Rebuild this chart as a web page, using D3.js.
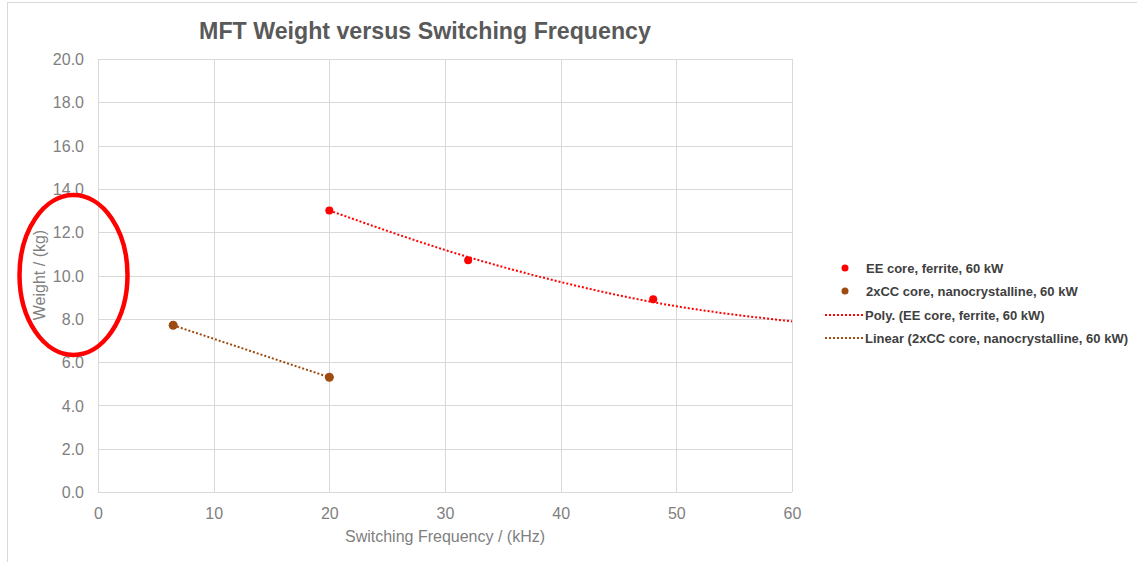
<!DOCTYPE html>
<html><head><meta charset="utf-8">
<script src="https://cdn.jsdelivr.net/npm/d3@7"></script>
<style>body{margin:0;background:#fff;}svg{display:block;font-family:"Liberation Sans",Arial,sans-serif;}</style>
</head><body><svg id="c" width="1137" height="562"></svg>
<script>
const title = "MFT Weight versus Switching Frequency";
const xTitle = "Switching Frequency / (kHz)";
const yTitle = "Weight / (kg)";
const xTicks = [0,10,20,30,40,50,60];
const yTicks = [0,2,4,6,8,10,12,14,16,18,20];
const seriesNames = ["EE core, ferrite, 60 kW","2xCC core, nanocrystalline, 60 kW","Poly. (EE core, ferrite, 60 kW)","Linear (2xCC core, nanocrystalline, 60 kW)"];
const eeFreq = [20,32,48];
const eeWeight = [13.0,10.7,8.9];
const ccFreq = [6.5,20];
const ccWeight = [7.7,5.3];
// trendline readings
const polyFreq = [20,30,40,50,60];
const polyWeight = [13.0,11.18,9.70,8.58,7.88];

const red = "#ff0000", brown = "#9e4b12", grid = "#d9d9d9", txt = "#7f7f7f";
const svg = d3.select("#c");
svg.append("rect").attr("x",7.5).attr("y",2.5).attr("width",1200).attr("height",600)
  .attr("fill","#fff").attr("stroke","#d9d9d9");

const x = d3.scaleLinear().domain([0,60]).range([98,792]);
const y = d3.scaleLinear().domain([0,20]).range([492,59]);

const gx = svg.append("g");
gx.selectAll("line").data(xTicks).join("line")
  .attr("x1",d=>Math.round(x(d))+0.5).attr("x2",d=>Math.round(x(d))+0.5)
  .attr("y1",y(20)).attr("y2",y(0)).attr("stroke",grid);
const gy = svg.append("g");
gy.selectAll("line").data(yTicks).join("line")
  .attr("y1",d=>Math.round(y(d))+0.5).attr("y2",d=>Math.round(y(d))+0.5)
  .attr("x1",x(0)).attr("x2",x(60)).attr("stroke",grid);

const yAxis = svg.append("g").attr("transform",`translate(${x(0)},0)`)
  .call(d3.axisLeft(y).tickValues(yTicks).tickFormat(d3.format(".1f")).tickSize(0).tickPadding(14));
yAxis.select(".domain").remove();
yAxis.selectAll("text").attr("fill",txt).style("font-size","16px").attr("dy","0.35em");

const xAxis = svg.append("g").attr("transform",`translate(0,${y(0)})`)
  .call(d3.axisBottom(x).tickValues(xTicks).tickFormat(d3.format("d")).tickSize(0).tickPadding(16));
xAxis.select(".domain").remove();
xAxis.selectAll("text").attr("fill",txt).style("font-size","16px");

svg.append("text").attr("x",425).attr("y",39).attr("text-anchor","middle")
  .attr("fill","#595959").style("font-size","23.2px").style("font-weight","bold").text(title);
svg.append("text").attr("x",445).attr("y",542).attr("text-anchor","middle")
  .attr("fill",txt).style("font-size","16px").text(xTitle);
svg.append("text").attr("transform","translate(45,275) rotate(-90)").attr("text-anchor","middle")
  .attr("fill",txt).style("font-size","16px").text(yTitle);

const line = d3.line().x(d=>x(d[0])).y(d=>y(d[1]));
svg.append("path").attr("d",line.curve(d3.curveNatural)(d3.zip(polyFreq,polyWeight)))
  .attr("fill","none").attr("stroke",red).attr("stroke-width",2).attr("stroke-dasharray","2 2");
svg.append("path").attr("d",d3.line().x(d=>x(d[0])).y(d=>y(d[1]))(d3.zip(ccFreq,ccWeight)))
  .attr("fill","none").attr("stroke",brown).attr("stroke-width",2).attr("stroke-dasharray","2 2");

svg.append("g").selectAll("circle").data(d3.zip(eeFreq,eeWeight)).join("circle")
  .attr("cx",d=>x(d[0])).attr("cy",d=>y(d[1])).attr("r",4).attr("fill",red);
svg.append("g").selectAll("circle").data(d3.zip(ccFreq,ccWeight)).join("circle")
  .attr("cx",d=>x(d[0])).attr("cy",d=>y(d[1])).attr("r",4.5).attr("fill",brown);

// legend
const lg = svg.append("g");
const rows = [268,291,315,338];
const cols = [red,brown,red,brown];
seriesNames.forEach((n,i)=>{
  if(i<2){
    lg.append("circle").attr("cx",845).attr("cy",rows[i]).attr("r",3.5).attr("fill",cols[i]);
  } else {
    lg.append("line").attr("x1",825).attr("x2",864).attr("y1",rows[i]).attr("y2",rows[i])
      .attr("stroke",cols[i]).attr("stroke-width",2).attr("stroke-dasharray","2 2");
  }
  lg.append("text").attr("x",i<2?866:865).attr("y",rows[i]).attr("dy","0.35em")
    .attr("fill","#404040").style("font-size","13px").style("font-weight","bold").text(n);
});

// red ellipse annotation
svg.append("ellipse").attr("cx",73.5).attr("cy",275).attr("rx",54).attr("ry",80)
  .attr("fill","none").attr("stroke","#ff0000").attr("stroke-width",4.5);
</script></body></html>
